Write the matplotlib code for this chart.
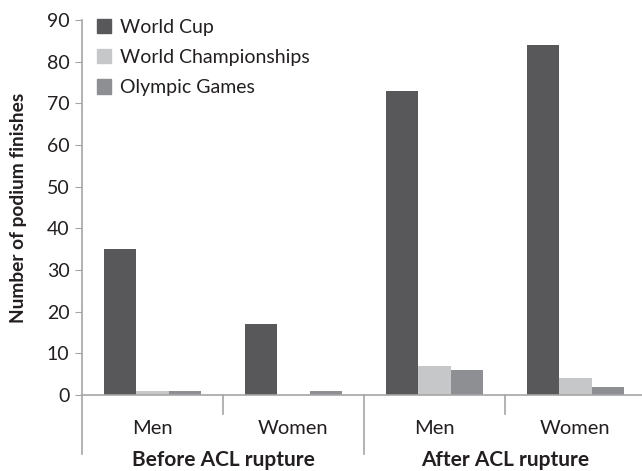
import numpy as np
from matplotlib import pyplot as plt
from matplotlib.patches import Patch

categories = ['Men', 'Women', 'Men', 'Women']
groups = ['Before ACL rupture', 'After ACL rupture']
series_names = ['World Cup', 'World Championships', 'Olympic Games']
world_cup = [35, 17, 73, 84]
world_champs = [1, 0, 7, 4]
olympic = [1, 1, 6, 2]
colors = ['#58585b', '#c6c7c9', '#8e8f92']

plt.rcParams['font.family'] = ['Lato', 'DejaVu Sans']
axis_col = '#a6a6a6'
text_col = '#231f20'

fig = plt.figure(figsize=(6.42, 4.71), dpi=100)
ax = fig.add_axes([82 / 642, 1 - 395 / 471, 564 / 642, 375 / 471])

x = np.arange(len(categories)) + 0.5
w = 0.227
for i, (vals, c) in enumerate(zip([world_cup, world_champs, olympic], colors)):
    ax.bar(x + (i - 1) * w, vals, width=w, color=c, label=series_names[i])

ax.set_xlim(0, 4)
ax.set_ylim(0, 90)
ax.set_yticks(range(0, 91, 10))
ax.tick_params(axis='y', direction='out', length=5, color=axis_col, labelsize=14,
               labelcolor=text_col, pad=4)
ax.set_xticks([])
for s in ['top', 'right']:
    ax.spines[s].set_visible(False)
for s in ['left', 'bottom']:
    ax.spines[s].set_color(axis_col)
    ax.spines[s].set_linewidth(1.2)

trans = ax.get_xaxis_transform()
# separators below the axis
for xs, y_end in [(0, -0.157), (1, -0.05), (2, -0.157), (3, -0.05)]:
    ax.plot([xs, xs], [0, y_end], transform=trans, color=axis_col, lw=1.2, clip_on=False)

for xi, lab in zip(x, categories):
    ax.text(xi, -0.088, lab, transform=trans, ha='center', va='center', fontsize=14.5, color=text_col)
for gi, lab in enumerate(groups):
    ax.text(gi * 2 + 1, -0.172, lab, transform=trans, ha='center', va='center', fontsize=15,
            fontweight='bold', color=text_col)

ax.set_ylabel('Number of podium finishes', fontsize=13.8, fontweight='bold', color=text_col, va='center')
ax.yaxis.set_label_coords(-0.113, 0.5)

handles = [Patch(color=c) for c in colors]
ax.legend(handles, series_names, loc='upper left', bbox_to_anchor=(-0.005, 1.05), frameon=False,
          handlelength=0.75, handleheight=0.75, handletextpad=0.45, labelspacing=0.68,
          fontsize=14, labelcolor=text_col)

plt.savefig('out.png', dpi=100)
